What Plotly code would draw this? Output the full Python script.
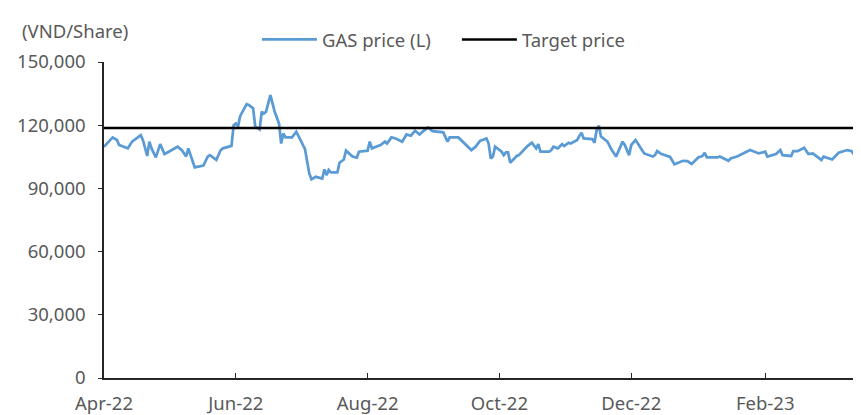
import plotly.graph_objects as go

dates = [
    "2022-04-01", "2022-04-05", "2022-04-07", "2022-04-08", "2022-04-12", "2022-04-14",
    "2022-04-18", "2022-04-19", "2022-04-21", "2022-04-22", "2022-04-23", "2022-04-25",
    "2022-04-27", "2022-04-29", "2022-05-01", "2022-05-05", "2022-05-07", "2022-05-09",
    "2022-05-10", "2022-05-13", "2022-05-17", "2022-05-19", "2022-05-20", "2022-05-23",
    "2022-05-25", "2022-05-26", "2022-05-30", "2022-05-31", "2022-06-01", "2022-06-02",
    "2022-06-03", "2022-06-06", "2022-06-07", "2022-06-09", "2022-06-10", "2022-06-12",
    "2022-06-13", "2022-06-14", "2022-06-15", "2022-06-17", "2022-06-19", "2022-06-21",
    "2022-06-22", "2022-06-23", "2022-06-24", "2022-06-27", "2022-06-29", "2022-07-01",
    "2022-07-03", "2022-07-05", "2022-07-06", "2022-07-08", "2022-07-11", "2022-07-12",
    "2022-07-13", "2022-07-14", "2022-07-15", "2022-07-18", "2022-07-19", "2022-07-21",
    "2022-07-22", "2022-07-25", "2022-07-27", "2022-07-28", "2022-08-01", "2022-08-02",
    "2022-08-03", "2022-08-07", "2022-08-09", "2022-08-10", "2022-08-12", "2022-08-14",
    "2022-08-17", "2022-08-19", "2022-08-21", "2022-08-23", "2022-08-25", "2022-08-27",
    "2022-08-29", "2022-08-31", "2022-09-05", "2022-09-07", "2022-09-08", "2022-09-12",
    "2022-09-15", "2022-09-18", "2022-09-20", "2022-09-22", "2022-09-25", "2022-09-26",
    "2022-09-27", "2022-09-28", "2022-09-29", "2022-10-02", "2022-10-03", "2022-10-04",
    "2022-10-05", "2022-10-06", "2022-10-09", "2022-10-10", "2022-10-14", "2022-10-16",
    "2022-10-18", "2022-10-19", "2022-10-20", "2022-10-24", "2022-10-25", "2022-10-26",
    "2022-10-28", "2022-10-30", "2022-10-31", "2022-11-02", "2022-11-03", "2022-11-06",
    "2022-11-07", "2022-11-08", "2022-11-09", "2022-11-13", "2022-11-14", "2022-11-15",
    "2022-11-16", "2022-11-17", "2022-11-20", "2022-11-22", "2022-11-24", "2022-11-26",
    "2022-11-27", "2022-11-28", "2022-11-30", "2022-12-01", "2022-12-03", "2022-12-05",
    "2022-12-07", "2022-12-11", "2022-12-12", "2022-12-13", "2022-12-15", "2022-12-19",
    "2022-12-21", "2022-12-25", "2022-12-27", "2022-12-29", "2023-01-01", "2023-01-03",
    "2023-01-04", "2023-01-05", "2023-01-10", "2023-01-11", "2023-01-15", "2023-01-16",
    "2023-01-19", "2023-01-25", "2023-01-29", "2023-02-01", "2023-02-02", "2023-02-06",
    "2023-02-08", "2023-02-09", "2023-02-13", "2023-02-14", "2023-02-16", "2023-02-19",
    "2023-02-21", "2023-02-23", "2023-02-27", "2023-02-28", "2023-03-04", "2023-03-07",
    "2023-03-11", "2023-03-13", "2023-03-15", "2023-03-17",
]

gas_price = [
    109800, 114200, 113000, 110600, 109000, 112200,
    115300, 113000, 105400, 112200, 109000, 104700,
    111000, 106300, 107400, 109800, 108200, 105100,
    109000, 100000, 100800, 105100, 105800, 103500,
    108200, 109000, 110200, 120000, 120800, 119300,
    124300, 130000, 129600, 128000, 119300, 118000,
    126400, 125600, 126400, 134300, 126400, 120800,
    111300, 116100, 114200, 114200, 116900, 112700,
    108700, 97100, 94300, 95500, 94700, 99000,
    96300, 98700, 97600, 97600, 102200, 103700,
    107900, 105100, 104600, 107400, 107900, 112200,
    109000, 110600, 112200, 111300, 114200, 113700,
    112200, 115600, 115000, 117400, 115600, 117400,
    118900, 117200, 116600, 112200, 114200, 114200,
    111000, 108200, 109800, 112500, 113700, 111300,
    104200, 105100, 109800, 107400, 105800, 107100,
    107100, 102200, 105400, 105800, 110100, 111700,
    109000, 111000, 107400, 107400, 108200, 109800,
    109000, 111000, 110100, 111700, 111300, 113000,
    114900, 116400, 113700, 113400, 111700, 117700,
    119800, 114600, 112200, 108200, 105100, 109800,
    112200, 110600, 105800, 110600, 113000, 109800,
    106600, 105100, 105800, 107700, 106300, 104900,
    101400, 103100, 103000, 101600, 104700, 105400,
    106900, 104700, 104700, 105100, 103100, 104200,
    105100, 108200, 106600, 107400, 105100, 106300,
    108200, 105800, 105400, 107700, 107700, 109300,
    106300, 106600, 103500, 105100, 103700, 106900,
    108200, 107700, 104700, 103500,
]

target_price = 118700
target_dates = ["2022-04-01", "2023-03-17 08:00"]

x_range = ["2022-04-01", "2023-03-17 08:00"]
x_tick_dates = ["2022-04-01", "2022-06-01", "2022-08-01", "2022-10-01", "2022-12-01", "2023-02-01"]
x_tick_labels = ["Apr-22", "Jun-22", "Aug-22", "Oct-22", "Dec-22", "Feb-23"]
y_ticks = [0, 30000, 60000, 90000, 120000, 150000]

FONT = "Noto Sans, DejaVu Sans, sans-serif"
TXT = "#595959"
AX = "#262626"
FS = 18.5

fig = go.Figure()
fig.add_trace(go.Scatter(
    x=dates, y=gas_price, mode="lines", name="GAS price (L)",
    line=dict(color="#5B9BD5", width=2.75),
))
fig.add_trace(go.Scatter(
    x=target_dates, y=[target_price, target_price], mode="lines", name="Target price",
    line=dict(color="#000000", width=2.5),
))

fig.update_layout(
    width=853, height=407,
    margin=dict(l=96, r=0, t=54, b=37),
    paper_bgcolor="white", plot_bgcolor="white",
    font=dict(family=FONT, size=FS, color=TXT),
    showlegend=True,
    legend=dict(
        orientation="h", x=0.202, xanchor="left", y=1.07, yanchor="middle",
        font=dict(family=FONT, size=FS, color=TXT),
        bgcolor="rgba(0,0,0,0)", itemwidth=55, entrywidth=130,
        traceorder="normal",
    ),
    xaxis=dict(
        type="date", range=x_range, tickmode="array", automargin=False,
        tickvals=x_tick_dates, ticktext=x_tick_labels,
        showgrid=False, zeroline=False, showline=True, linecolor=AX, linewidth=1.5,
        ticks="inside", ticklen=5, tickcolor=AX, tickwidth=1,
        ticklabelstandoff=8,
        tickfont=dict(family=FONT, size=FS, color=TXT),
    ),
    yaxis=dict(
        range=[0, 150000], tickmode="array", tickvals=y_ticks, tickformat=",d",
        automargin=False,
        showgrid=False, zeroline=False, showline=True, linecolor=AX, linewidth=1.5,
        ticks="outside", ticklen=4, tickcolor=AX, tickwidth=1,
        ticklabelstandoff=9,
        tickfont=dict(family=FONT, size=FS, color=TXT),
    ),
    annotations=[dict(
        text="(VND/Share)", xref="paper", yref="paper",
        x=-(104 - 20) / 757, xanchor="left", y=(378 - 31) / 316, yanchor="middle",
        showarrow=False, font=dict(family=FONT, size=FS, color=TXT),
    )],
)

fig.write_html("out.html")
